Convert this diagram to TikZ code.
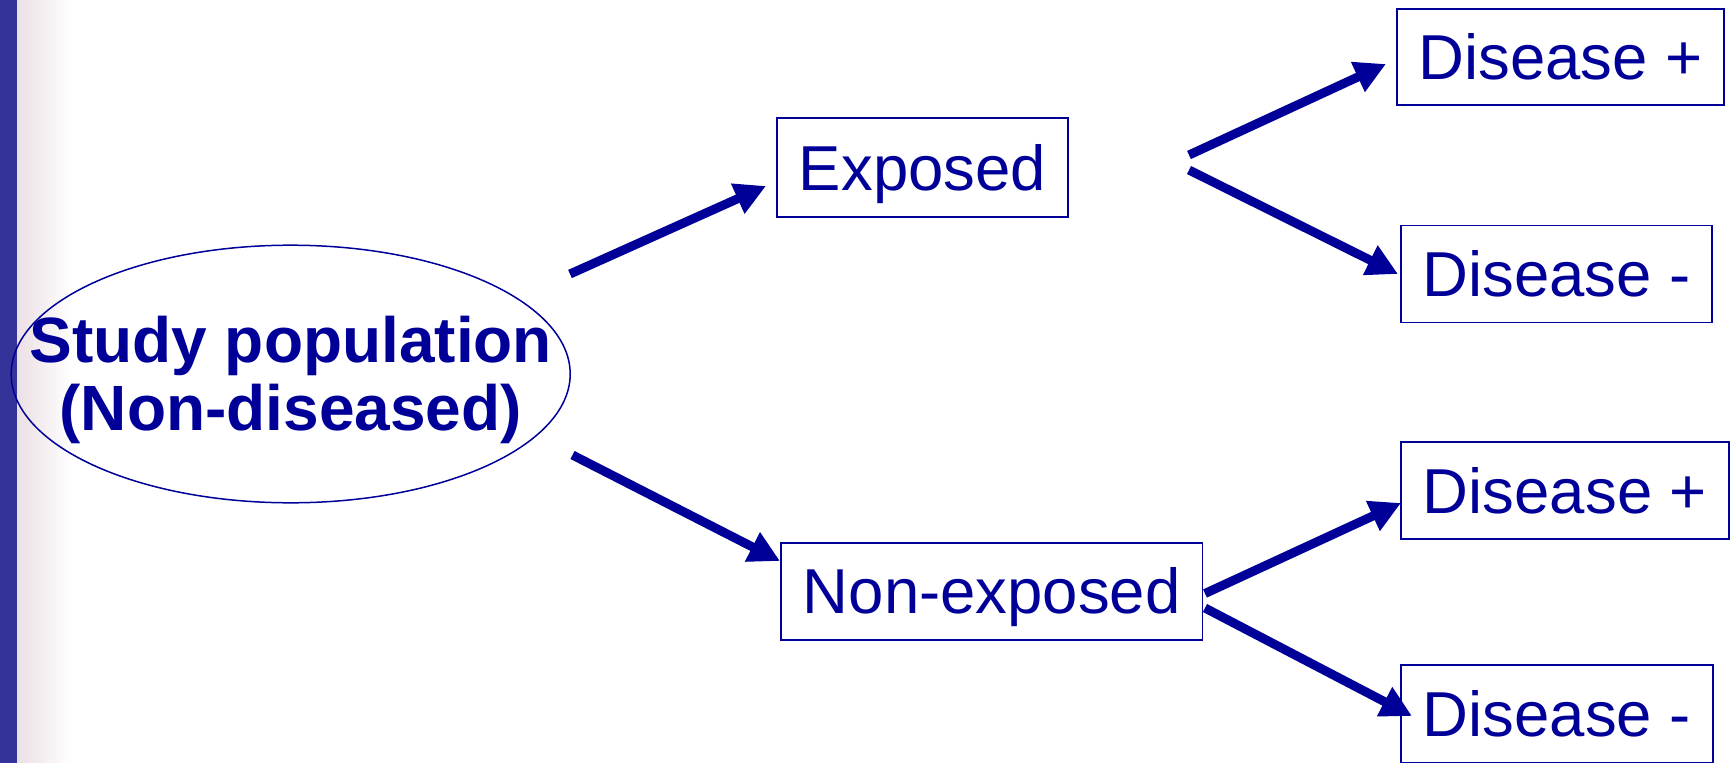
\documentclass[tikz,border=0pt]{standalone}
\usepackage{fontspec}
\setmainfont{Liberation Sans}
\usetikzlibrary{arrows.meta,shapes.geometric}
\definecolor{navy}{RGB}{0,0,153}
\definecolor{barblue}{RGB}{51,51,153}
\definecolor{fadepink}{RGB}{236,224,228}
\begin{document}
\begin{tikzpicture}[x=1pt,y=-1pt,
  box/.style={draw=navy, line width=1.5pt, text=navy, font=\fontsize{63.5}{68}\selectfont,
    inner sep=0pt, text height=45pt, text depth=0pt, anchor=center},
  arr/.style={draw=navy, line width=9pt, -{Triangle[length=31pt,width=31pt]}},
]
\useasboundingbox (0,0) rectangle (1733,763);
\fill[barblue] (0,0) rectangle (17,763);
\shade[left color=fadepink, right color=white] (17,0) rectangle (72,763);

% population ellipse
\node[ellipse, draw=navy, line width=1.5pt, minimum width=559pt, minimum height=257.6pt, inner sep=0pt] (pop) at (290.7,374) {};
\node[text=navy, font=\bfseries\fontsize{64}{68}\selectfont, align=center, inner sep=0pt] (poplabel) at (290.7,380) {Study population\\(Non-diseased)};

% boxes
\node[box, minimum width=291pt, minimum height=99pt] (exp) at (922.5,167.5) {Exposed};
\node[box, minimum width=421.5pt, minimum height=97.3pt] (nexp) at (991.7,591.4) {Non-exposed};
\node[box, minimum width=327pt, minimum height=96pt] (dp1) at (1560.5,57) {Disease +};
\node[box, minimum width=311pt, minimum height=97pt] (dm1) at (1556.5,274) {Disease -};
\node[box, minimum width=328pt, minimum height=97pt] (dp2) at (1565,490.5) {Disease +};
\node[box, minimum width=312pt, minimum height=98pt] (dm2) at (1557,714) {Disease -};

% connector ends
\coordinate (a1s) at (570,274);    \coordinate (a1e) at (766,186);
\coordinate (a2s) at (572.5,455);  \coordinate (a2e) at (780,561);
\coordinate (a3s) at (1189,155);   \coordinate (a3e) at (1386,64);
\coordinate (a4s) at (1189,170);   \coordinate (a4e) at (1398,274);
\coordinate (a5s) at (1205,593.5); \coordinate (a5e) at (1401,503);
\coordinate (a6s) at (1205,608);   \coordinate (a6e) at (1412,716);

\draw[arr] (a1s) -- (a1e);
\draw[arr] (a2s) -- (a2e);
\draw[arr] (a3s) -- (a3e);
\draw[arr] (a4s) -- (a4e);
\draw[arr] (a5s) -- (a5e);
\draw[arr] (a6s) -- (a6e);
\end{tikzpicture}
\end{document}
